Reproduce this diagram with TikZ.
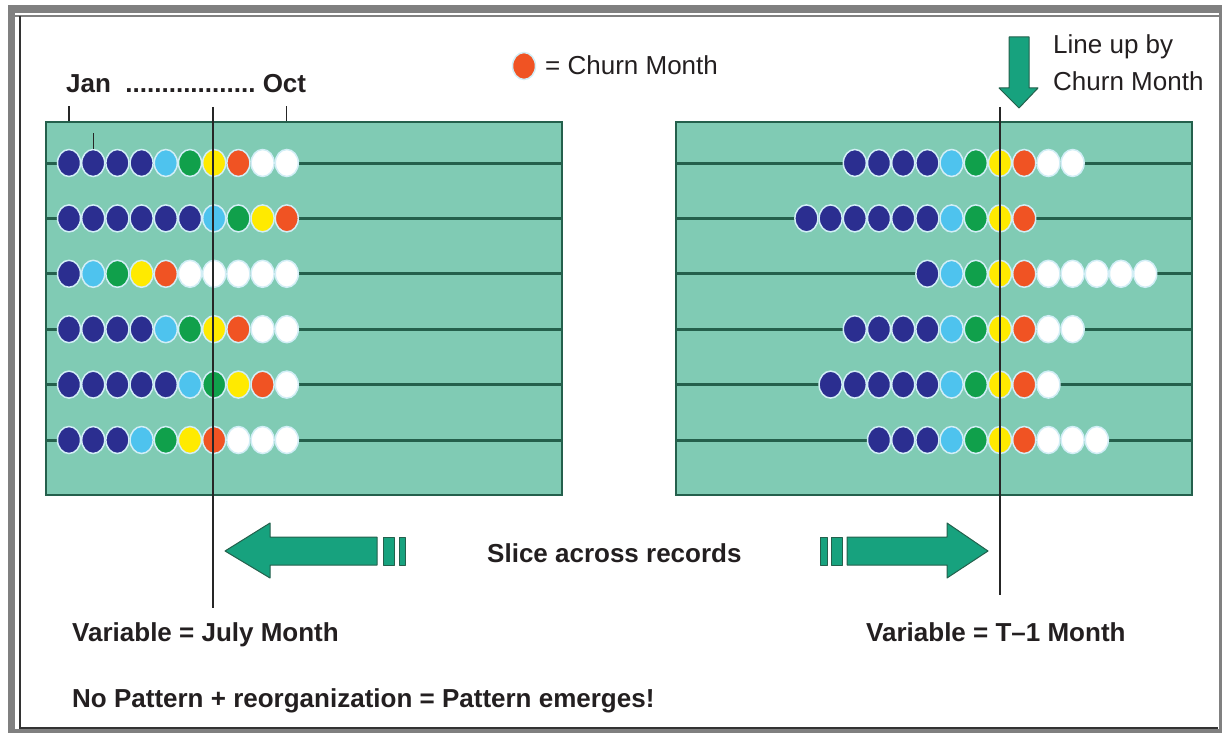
\documentclass[tikz,border=0pt]{standalone}
\usepackage{fontspec}
\setmainfont{Liberation Sans}
\usetikzlibrary{shapes.geometric}

\definecolor{panelgreen}{HTML}{80CBB4}
\definecolor{rowgreen}{HTML}{24604C}
\definecolor{arrowgreen}{HTML}{17A27E}
\definecolor{framegray}{HTML}{808080}
\definecolor{txt}{HTML}{231F20}
\definecolor{beadrim}{HTML}{D2EEF6}
\definecolor{db}{HTML}{2B2E90}
\definecolor{lb}{HTML}{4EC3EE}
\definecolor{gn}{HTML}{10A04B}
\definecolor{ye}{HTML}{FFEA00}
\definecolor{rd}{HTML}{F05323}
\definecolor{wh}{HTML}{FFFFFF}

\tikzset{
    bead/.style={ellipse, draw=beadrim, line width=1.5pt, minimum width=23pt, minimum height=27pt, inner sep=0pt},
    panel/.style={draw=rowgreen, line width=1.5pt, fill=panelgreen, minimum width=516pt, minimum height=373pt, inner sep=0pt},
    rowline/.style={rowgreen, line width=3pt},
    slice/.style={black!85, line width=1.3pt},
    blockarrow/.style={fill=arrowgreen, draw=rowgreen, line width=1pt, line join=round},
    lbl/.style={text=txt, inner sep=0pt, anchor=base west, font=\fontsize{26}{37}\selectfont},
    blbl/.style={lbl, font=\fontsize{26}{37}\selectfont\bfseries},
}

\begin{document}
\begin{tikzpicture}[x=1pt, y=-1pt]
            \useasboundingbox (0,0) rectangle (1222,733);

            \fill[framegray] (8,5) rectangle (1222,13);
            \fill[framegray] (8,5) rectangle (15,733);
            \fill[framegray] (8,729) rectangle (1222,733);
            \fill[framegray] (1219,5) rectangle (1222,733);
            \draw[framegray, line width=1.5pt] (15,16) -- (1219,16);
            \draw[black!80, line width=1.2pt] (20,16) -- (20,728) -- (1218,728);

            \node[panel] (pl) at (304,308.5) {};
            \node[panel] (pr) at (934,308.5) {};

            \foreach \r in {1,...,6} {
                \coordinate (row\r) at (0,{107.6+55.4*\r});
                \draw[rowline] (pl.west |- row\r) -- (pl.east |- row\r);
                \draw[rowline] (pr.west |- row\r) -- (pr.east |- row\r);
            }

            \foreach \r/\list in {1/{db,db,db,db,lb,gn,ye,rd,wh,wh}, 2/{db,db,db,db,db,db,lb,gn,ye,rd},
                                  3/{db,lb,gn,ye,rd,wh,wh,wh,wh,wh}, 4/{db,db,db,db,lb,gn,ye,rd,wh,wh},
                                  5/{db,db,db,db,db,lb,gn,ye,rd,wh}, 6/{db,db,db,lb,gn,ye,rd,wh,wh,wh}}
                \foreach \c [count=\i from 0] in \list
                    \node[bead, fill=\c] (l\r-\i) at ({69+24.2*\i},{107.6+55.4*\r}) {};

            \foreach \r/\n/\list in {1/6/{db,db,db,db,lb,gn,ye,rd,wh,wh}, 2/8/{db,db,db,db,db,db,lb,gn,ye,rd},
                                     3/3/{db,lb,gn,ye,rd,wh,wh,wh,wh,wh}, 4/6/{db,db,db,db,lb,gn,ye,rd,wh,wh},
                                     5/7/{db,db,db,db,db,lb,gn,ye,rd,wh}, 6/5/{db,db,db,lb,gn,ye,rd,wh,wh,wh}}
                \foreach \c [count=\i from 0] in \list
                    \node[bead, fill=\c] (r\r-\i) at ({1000+24.2*(\i-\n)},{107.6+55.4*\r}) {};

            \coordinate (ltop) at (213,107);
            \coordinate (lbot) at (213,608);
            \coordinate (rtop) at (1000,107);
            \coordinate (rbot) at (1000,595);
            \draw[slice] (ltop) -- (lbot);
            \draw[slice] (rtop) -- (rbot);

            \draw[slice] (l1-0 |- pl.north) -- ++(0,-15);
            \draw[slice] (l1-9 |- pl.north) -- ++(0,-15);
            \draw[slice] (l1-1.north) -- ++(0,-16);

            \draw[blockarrow] (225,551) -- (270,523) -- (270,537) -- (377,537) -- (377,565) -- (270,565) -- (270,578) -- cycle;
            \draw[blockarrow] (383,537) rectangle (394,565);
            \draw[blockarrow] (399,537) rectangle (405,565);
            \draw[blockarrow] (820,537) rectangle (827,565);
            \draw[blockarrow] (831,537) rectangle (842,565);
            \draw[blockarrow] (847,537) -- (947,537) -- (947,523) -- (988,551) -- (947,578) -- (947,565) -- (847,565) -- cycle;
            \draw[blockarrow] (1009,37) -- (1029,37) -- (1029,88) -- (1038,88) -- (1019,108) -- (999,88) -- (1009,88) -- cycle;

            \node[bead, fill=rd] (key) at (524,66) {};
            \node[lbl] (keytext) at (545,75) {= Churn Month};
            \node[blbl] (months) at (66,93) {Jan\ \ ..................\ Oct};
            \node[lbl, anchor=north west, align=left] (lineup) at (1053,34) {Line up by\\Churn Month};
            \node[blbl] (slicetext) at (487,562) {Slice across records};
            \node[blbl] (varl) at (72,641) {Variable = July Month};
            \node[blbl] (varr) at (866,641) {Variable = T–1 Month};
            \node[blbl] (summary) at (72,707) {No Pattern + reorganization = Pattern emerges!};
        \end{tikzpicture}
\end{document}
